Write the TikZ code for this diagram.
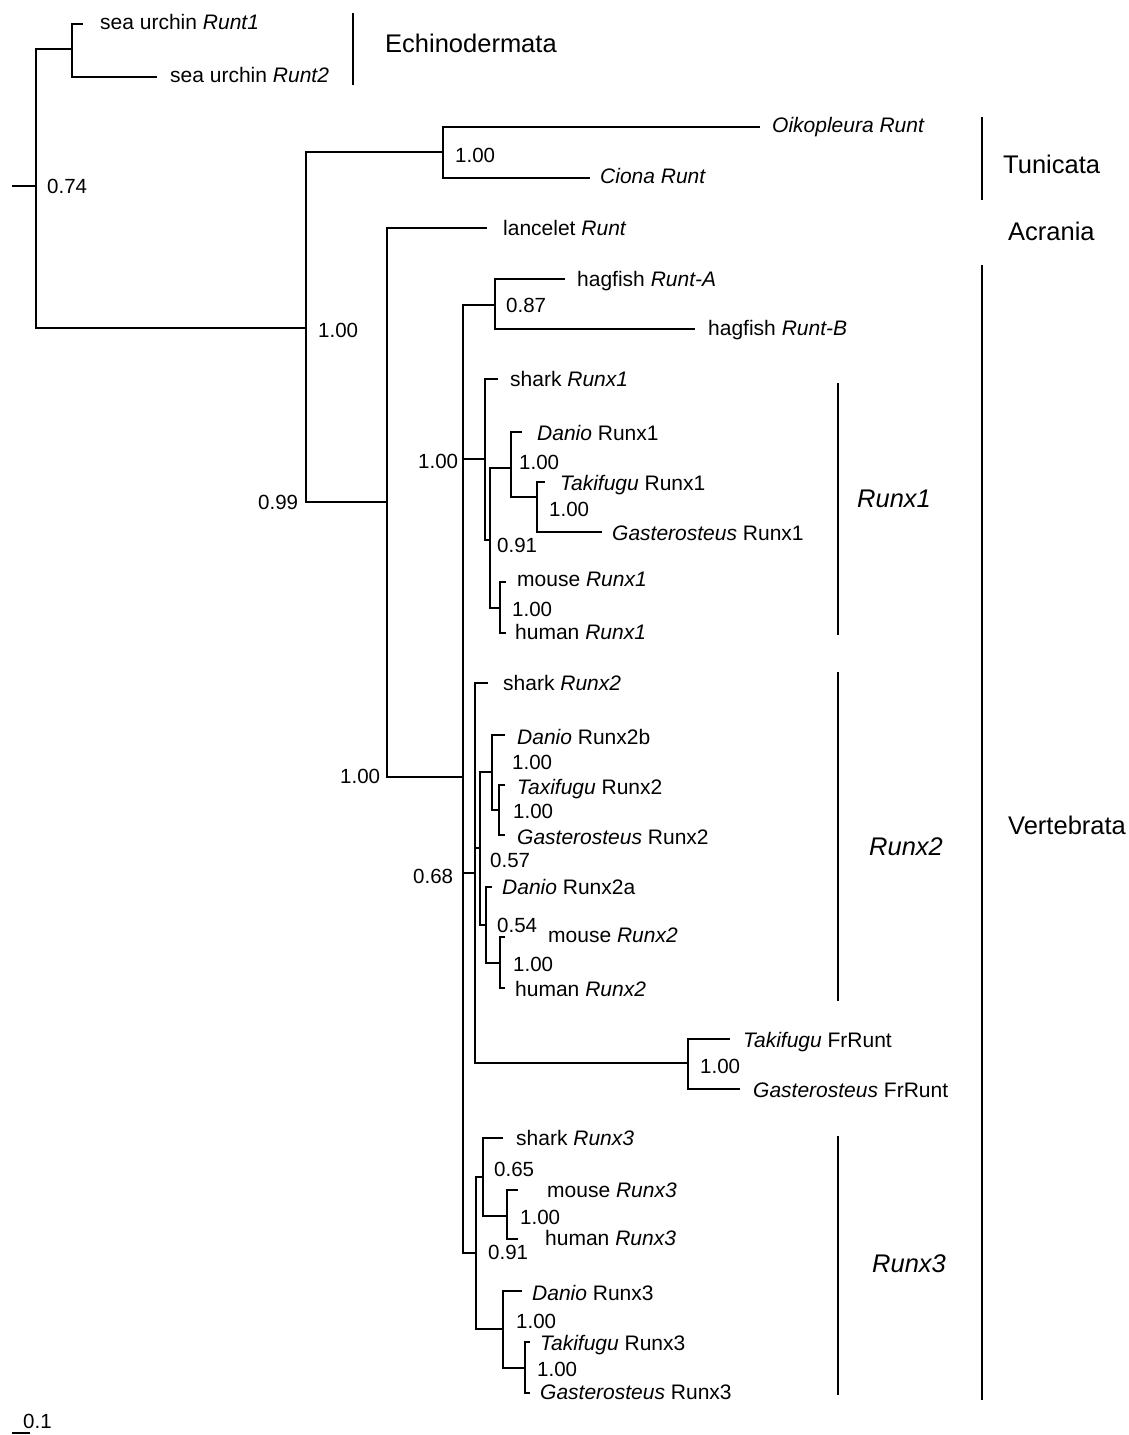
\documentclass[tikz,border=0pt]{standalone}
\usepackage{fontspec}
\setmainfont{Liberation Sans}
\usepackage{tikz}

\tikzset{
	branch/.style={line width=1.7pt},
	cladebar/.style={line width=2pt},
	taxon/.style={anchor=mid west, inner sep=0pt, yshift=-5pt, font=\fontsize{21}{25}\selectfont},
	pp/.style={anchor=mid west, inner sep=0pt, yshift=-5pt, font=\fontsize{20.5}{25}\selectfont},
	group/.style={anchor=mid west, inner sep=0pt, yshift=-6pt, font=\fontsize{25.5}{30}\selectfont}
}

\begin{document}
\begin{tikzpicture}[x=1pt, y=-1pt]
	\useasboundingbox (0,0) rectangle (1129,1435);

	% internal nodes
	\coordinate (s0) at (12,186);
	\coordinate (R) at (36,186);
	\coordinate (E) at (72,49);
	\coordinate (C) at (306,328);
	\coordinate (T) at (443,152);
	\coordinate (O) at (387,502);
	\coordinate (V) at (463,777);
	\coordinate (H) at (495,305);
	\coordinate (X1) at (485,459);
	\coordinate (A1) at (490,540);
	\coordinate (F1) at (511,468);
	\coordinate (TG1) at (537,497);
	\coordinate (M1) at (500,608);
	\coordinate (X2) at (475,873);
	\coordinate (B2) at (480,848);
	\coordinate (F2) at (492,772);
	\coordinate (TG2) at (499,810);
	\coordinate (D2) at (486,925);
	\coordinate (M2) at (500,963);
	\coordinate (FR) at (688,1063);
	\coordinate (X3) at (476,1253);
	\coordinate (G3) at (483,1177);
	\coordinate (M3) at (507,1216);
	\coordinate (F3) at (503,1329);
	\coordinate (TG3) at (525,1368);

	% tips
	\coordinate (u1) at (83,24);
	\coordinate (u2) at (157,77);
	\coordinate (oik) at (760,127);
	\coordinate (cio) at (590,178);
	\coordinate (lan) at (487,228);
	\coordinate (ha) at (565,279);
	\coordinate (hb) at (695,329);
	\coordinate (sh1) at (498,379);
	\coordinate (da1) at (522,432);
	\coordinate (ta1) at (545,482);
	\coordinate (ga1) at (602,532);
	\coordinate (mo1) at (506,582);
	\coordinate (hu1) at (506,633);
	\coordinate (sh2) at (488,683);
	\coordinate (da2b) at (505,735);
	\coordinate (ta2) at (505,785);
	\coordinate (ga2) at (505,835);
	\coordinate (da2a) at (492,887);
	\coordinate (mo2) at (505,937);
	\coordinate (hu2) at (505,988);
	\coordinate (tafr) at (730,1039);
	\coordinate (gafr) at (740,1089);
	\coordinate (sh3) at (503,1138);
	\coordinate (mo3) at (518,1190);
	\coordinate (hu3) at (518,1239);
	\coordinate (da3) at (522,1291);
	\coordinate (ta3) at (530,1342);
	\coordinate (ga3) at (530,1393);

	% branches
	\draw[branch] (s0) -- (R);
	\draw[branch] (R) |- (E) (R) |- (C);
	\draw[branch] (E) |- (u1) (E) |- (u2);
	\draw[branch] (C) |- (T) (C) |- (O);
	\draw[branch] (T) |- (oik) (T) |- (cio);
	\draw[branch] (O) |- (lan) (O) |- (V);
	\draw[branch] (V) |- (H) (V) |- (X1) (V) |- (X2) (V) |- (X3);
	\draw[branch] (H) |- (ha) (H) |- (hb);
	\draw[branch] (X1) |- (sh1) (X1) |- (A1);
	\draw[branch] (A1) |- (F1) (A1) |- (M1);
	\draw[branch] (F1) |- (da1) (F1) |- (TG1);
	\draw[branch] (TG1) |- (ta1) (TG1) |- (ga1);
	\draw[branch] (M1) |- (mo1) (M1) |- (hu1);
	\draw[branch] (X2) |- (sh2) (X2) |- (B2) (X2) |- (FR);
	\draw[branch] (B2) |- (F2) (B2) |- (D2);
	\draw[branch] (F2) |- (da2b) (F2) |- (TG2);
	\draw[branch] (TG2) |- (ta2) (TG2) |- (ga2);
	\draw[branch] (D2) |- (da2a) (D2) |- (M2);
	\draw[branch] (M2) |- (mo2) (M2) |- (hu2);
	\draw[branch] (FR) |- (tafr) (FR) |- (gafr);
	\draw[branch] (X3) |- (G3) (X3) |- (F3);
	\draw[branch] (G3) |- (sh3) (G3) |- (M3);
	\draw[branch] (M3) |- (mo3) (M3) |- (hu3);
	\draw[branch] (F3) |- (da3) (F3) |- (TG3);
	\draw[branch] (TG3) |- (ta3) (TG3) |- (ga3);

	% taxa
	\node[taxon] (u1T) at (100,22) {sea urchin \textit{Runt1}};
	\node[taxon] (u2T) at (170,75) {sea urchin \textit{Runt2}};
	\node[taxon] (oikT) at (772,125) {\textit{Oikopleura Runt}};
	\node[taxon] (cioT) at (600,176) {\textit{Ciona Runt}};
	\node[taxon] (lanT) at (503,228) {lancelet \textit{Runt}};
	\node[taxon] (haT) at (577,279) {hagfish \textit{Runt-A}};
	\node[taxon] (hbT) at (708,328) {hagfish \textit{Runt-B}};
	\node[taxon] (sh1T) at (510,379) {shark \textit{Runx1}};
	\node[taxon] (da1T) at (537,433) {\textit{Danio} Runx1};
	\node[taxon] (ta1T) at (560,483) {\textit{Takifugu} Runx1};
	\node[taxon] (ga1T) at (612,533) {\textit{Gasterosteus} Runx1};
	\node[taxon] (mo1T) at (517,579) {mouse \textit{Runx1}};
	\node[taxon] (hu1T) at (515,632) {human \textit{Runx1}};
	\node[taxon] (sh2T) at (503,683) {shark \textit{Runx2}};
	\node[taxon] (da2bT) at (517,737) {\textit{Danio} Runx2b};
	\node[taxon] (ta2T) at (517,787) {\textit{Taxifugu} Runx2};
	\node[taxon] (ga2T) at (517,837) {\textit{Gasterosteus} Runx2};
	\node[taxon] (da2aT) at (502,887) {\textit{Danio} Runx2a};
	\node[taxon] (mo2T) at (548,935) {mouse \textit{Runx2}};
	\node[taxon] (hu2T) at (515,989) {human \textit{Runx2}};
	\node[taxon] (tafrT) at (743,1040) {\textit{Takifugu} FrRunt};
	\node[taxon] (gafrT) at (753,1090) {\textit{Gasterosteus} FrRunt};
	\node[taxon] (sh3T) at (516,1138) {shark \textit{Runx3}};
	\node[taxon] (mo3T) at (547,1190) {mouse \textit{Runx3}};
	\node[taxon] (hu3T) at (545,1238) {human \textit{Runx3}};
	\node[taxon] (da3T) at (532,1293) {\textit{Danio} Runx3};
	\node[taxon] (ta3T) at (540,1343) {\textit{Takifugu} Runx3};
	\node[taxon] (ga3T) at (540,1392) {\textit{Gasterosteus} Runx3};

	% support values
	\node[pp] (pR) at (47,186) {0.74};
	\node[pp] (pC) at (318,330) {1.00};
	\node[pp] (pT) at (455,155) {1.00};
	\node[pp] (pO) at (258,502) {0.99};
	\node[pp] (pV) at (340,776) {1.00};
	\node[pp] (pH) at (506,305) {0.87};
	\node[pp] (pX1) at (418,461) {1.00};
	\node[pp] (pF1) at (519,462) {1.00};
	\node[pp] (pTG1) at (549,509) {1.00};
	\node[pp] (pA1) at (497,545) {0.91};
	\node[pp] (pM1) at (512,609) {1.00};
	\node[pp] (pX2) at (413,876) {0.68};
	\node[pp] (pF2) at (512,762) {1.00};
	\node[pp] (pTG2) at (513,811) {1.00};
	\node[pp] (pB2) at (490,860) {0.57};
	\node[pp] (pD2) at (497,925) {0.54};
	\node[pp] (pM2) at (513,964) {1.00};
	\node[pp] (pFR) at (700,1066) {1.00};
	\node[pp] (pG3) at (494,1169) {0.65};
	\node[pp] (pM3) at (520,1217) {1.00};
	\node[pp] (pX3) at (488,1252) {0.91};
	\node[pp] (pF3) at (516,1321) {1.00};
	\node[pp] (pTG3) at (537,1369) {1.00};

	% groups
	\draw[cladebar] (353,13) -- (353,85);
	\draw[cladebar] (982,117) -- (982,200);
	\draw[cladebar] (982,265) -- (982,1400);
	\draw[cladebar] (838,383) -- (838,635);
	\draw[cladebar] (838,672) -- (838,1001);
	\draw[cladebar] (838,1136) -- (838,1395);
	\node[group] (echL) at (385,44) {Echinodermata};
	\node[group] (tunL) at (1003,165) {Tunicata};
	\node[group] (acrL) at (1008,232) {Acrania};
	\node[group] (verL) at (1008,826) {Vertebrata};
	\node[group] (rx1L) at (857,499) {\textit{Runx1}};
	\node[group] (rx2L) at (869,847) {\textit{Runx2}};
	\node[group] (rx3L) at (872,1264) {\textit{Runx3}};

	% scale
	\coordinate (sc0) at (12,1433);
	\coordinate (sc1) at (30,1433);
	\draw[branch] (sc0) -- (sc1);
	\node[pp] (scL) at (23,1421) {0.1};
\end{tikzpicture}
\end{document}
